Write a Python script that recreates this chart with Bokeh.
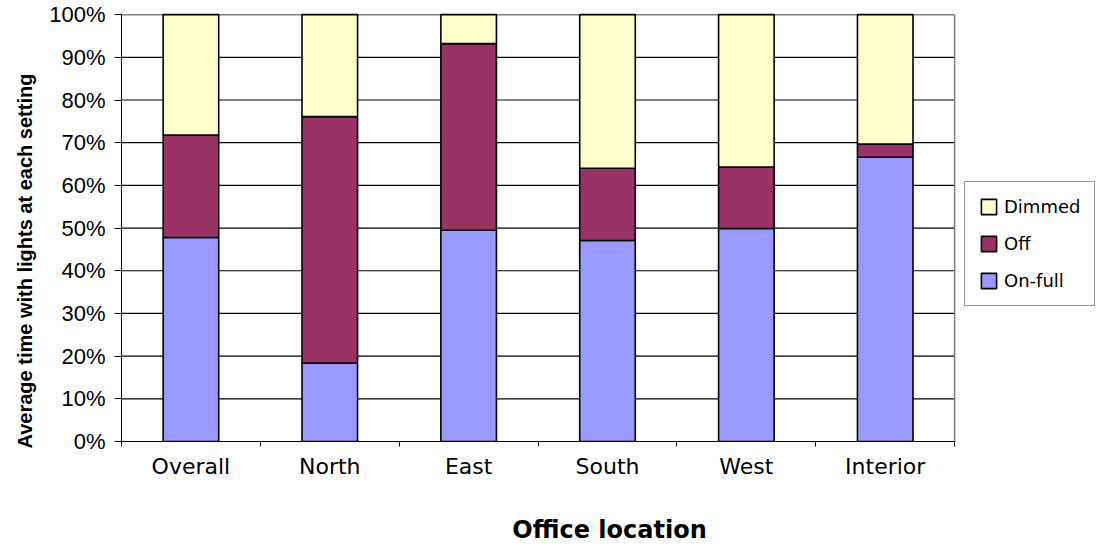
from bokeh.plotting import figure
from bokeh.models import (ColumnDataSource, Range1d, LinearAxis, FixedTicker,
                          PrintfTickFormatter, Legend, LegendItem, Title)
from bokeh.embed import file_html
from bokeh.resources import INLINE

# Share of time (%) spent at each lighting setting, per office location
categories = ["Overall", "North", "East", "South", "West", "Interior"]
on_full = [47.8, 18.4, 49.5, 47.1, 49.9, 66.6]
off = [24.0, 57.7, 43.7, 16.9, 14.4, 3.1]
dimmed = [28.2, 23.9, 6.8, 36.0, 35.7, 30.3]

series_keys = ["on_full", "off", "dimmed"]
series_names = ["On-full", "Off", "Dimmed"]
series_colors = ["#9999FF", "#993366", "#FFFFCC"]
y_ticks = [0, 10, 20, 30, 40, 50, 60, 70, 80, 90, 100]

n = len(categories)
# each category occupies one unit slot; bars sit in the middle of their slot
centers = [i + 0.5 for i in range(n)]

# the plotting frame runs to the right edge so the legend can sit beside the
# bar area; the bar area itself is 834 px of the 977 px frame
bar_area_px, frame_px = 834, 977
x_end = n * frame_px / bar_area_px

source = ColumnDataSource(dict(x=centers, location=categories,
                               on_full=on_full, off=off, dimmed=dimmed))

p = figure(width=1097, height=546,
           x_range=Range1d(0, x_end), y_range=Range1d(0, 100.5),
           x_axis_location=None, y_axis_location=None,
           output_backend="svg", toolbar_location=None,
           min_border_left=120, min_border_right=0,
           min_border_top=12, min_border_bottom=104,
           outline_line_color=None,
           background_fill_color="white", border_fill_color="white")
p.center = []

# horizontal gridlines across the bar area
grid_y = y_ticks[1:-1]
p.segment(x0=[0] * len(grid_y), x1=[n] * len(grid_y), y0=grid_y, y1=grid_y,
          line_color="black", line_width=1.2)
# grey border along the top and right of the bar area
p.segment(x0=[0, n], x1=[n, n], y0=[y_ticks[-1], 0], y1=[y_ticks[-1], y_ticks[-1]],
          line_color="#808080", line_width=1.5)

bars = p.vbar_stack(series_keys, x="x", width=0.4, source=source,
                    fill_color=series_colors, line_color="black", line_width=1.6)

# y axis with percent labels
y_axis = LinearAxis(ticker=FixedTicker(ticks=y_ticks), bounds=(0, 100),
                    formatter=PrintfTickFormatter(format="%d%%"),
                    major_tick_out=7, major_tick_in=0,
                    minor_tick_out=0, minor_tick_in=0,
                    major_label_standoff=9,
                    major_label_text_font="Liberation Sans",
                    major_label_text_font_size="22px",
                    major_label_text_color="black",
                    axis_line_color="black", major_tick_line_color="black")
p.add_layout(y_axis, "left")

p.add_layout(Title(text="Average time with lights at each setting",
                   align="left", offset=-7, standoff=22,
                   text_font="Liberation Sans",
                   text_font_style="bold", text_font_size="20px",
                   text_color="black"), "left")

# x axis: tick marks between categories ...
edge_axis = LinearAxis(ticker=FixedTicker(ticks=list(range(n + 1))), bounds=(0, n),
                       major_label_overrides={i: "" for i in range(n + 1)},
                       major_tick_out=5, major_tick_in=0,
                       minor_tick_out=0, minor_tick_in=0,
                       major_label_standoff=0,
                       axis_line_color="black", major_tick_line_color="black")
p.add_layout(edge_axis, "below")

# ... and category names centred under each bar
cat_axis = LinearAxis(ticker=FixedTicker(ticks=centers), bounds=(0, n),
                      major_label_overrides={c: name for c, name in zip(centers, categories)},
                      major_tick_out=0, major_tick_in=0,
                      minor_tick_out=0, minor_tick_in=0,
                      axis_line_color=None, major_tick_line_color=None,
                      major_label_standoff=7,
                      major_label_text_font="DejaVu Sans",
                      major_label_text_font_size="22px",
                      major_label_text_color="black",
                      axis_label="Office location",
                      axis_label_standoff=34,
                      axis_label_text_font="DejaVu Sans",
                      axis_label_text_font_style="bold",
                      axis_label_text_font_size="24px",
                      axis_label_text_color="black")
p.add_layout(cat_axis, "below")

legend = Legend(items=[LegendItem(label=series_names[i], renderers=[bars[i]])
                       for i in (2, 1, 0)],
                location=(843, 135), padding=14, spacing=16, margin=0,
                glyph_width=19, glyph_height=19, label_height=19,
                label_standoff=6,
                label_text_font="DejaVu Sans", label_text_font_size="18px",
                label_text_color="black",
                border_line_color="#333333", border_line_width=1,
                background_fill_color="white", background_fill_alpha=1)
p.add_layout(legend, "center")

open("out.html", "w").write(file_html(p, INLINE))
